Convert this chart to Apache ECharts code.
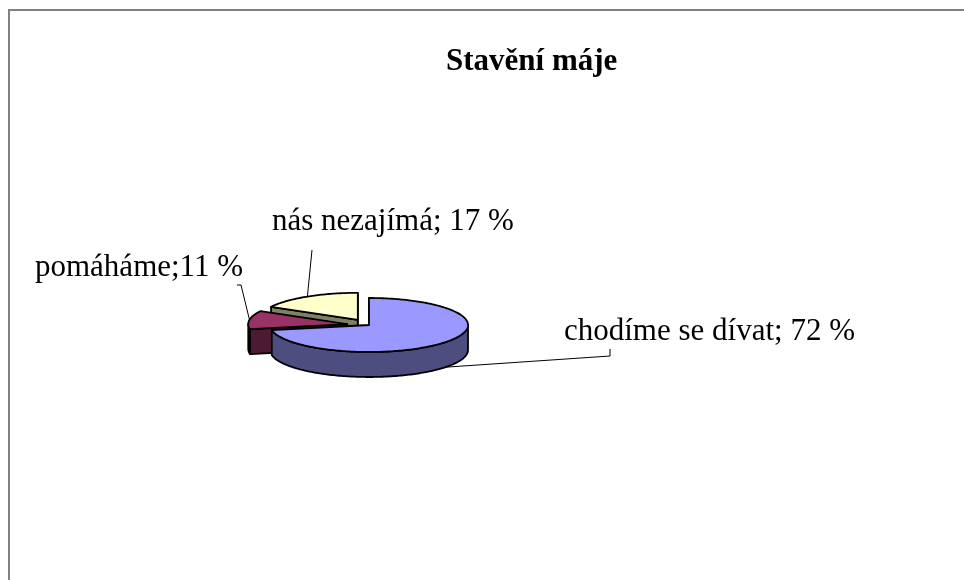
<!DOCTYPE html>
<html>
<head>
<meta charset="utf-8">
<title>Stavění máje</title>
<script src="https://cdn.jsdelivr.net/npm/echarts@6/dist/echarts.min.js"></script>
<style>
  html, body { margin: 0; padding: 0; background: #fff; }
  #main { width: 964px; height: 580px; }
</style>
</head>
<body>
<div id="main"></div>
<script>
// data
var categories = ['chodíme se dívat', 'pomáháme', 'nás nezajímá']
var values = [72, 11, 17]
var separators = ['; ', ';', '; '] // as written in the original labels

// styles
var topColors = ['#9999ff', '#993366', '#ffffcc']
var sideColors = ['#4d4d80', '#4d1a33', '#808066']
var explode = [0, 22, 22]

// 3d pie geometry
var cx = 369, cy = 325, rx = 99, ry = 27, depth = 25
var labelPos = [[564, 332], [35, 268], [272, 222]]
var leaderPts = [[[610, 356], [610, 349]], [[241, 285], [237, 285]], [[312, 250]]]
var font = '"Liberation Serif", "Times New Roman", serif'

var total = values.reduce(function (s, v) { return s + v }, 0)
var starts = []
var acc = 0
values.forEach(function (v) { starts.push(acc / total * Math.PI * 2); acc += v })

function pt(ox, oy, a, dz) {
  return [ox + rx * Math.sin(a), oy - ry * Math.cos(a) + (dz || 0)]
}
function arc(ox, oy, a0, a1, dz) {
  var n = Math.max(2, Math.ceil(Math.abs(a1 - a0) / 0.02))
  var out = []
  for (var k = 0; k <= n; k++) out.push(pt(ox, oy, a0 + (a1 - a0) * k / n, dz))
  return out
}

function renderItem(params, api) {
  var i = params.dataIndex
  var v = api.value(0)
  var a0 = starts[i]
  var a1 = a0 + v / total * Math.PI * 2
  var mid = (a0 + a1) / 2
  var ox = cx + explode[i] * Math.sin(mid)
  var oy = cy - explode[i] * Math.cos(mid) * ry / rx
  var base = (1 - Math.cos(mid)) * 10
  var line = { stroke: '#000', lineWidth: 1.8, lineJoin: 'round' }
  var kids = []

  // radial faces, only those turned to the viewer
  ;[[a0, a0 - Math.PI / 2], [a1, a1 + Math.PI / 2]].forEach(function (f) {
    if (Math.cos(f[1]) < 1e-6) {
      var e = pt(ox, oy, f[0])
      kids.push({
        type: 'polygon', z2: base,
        shape: { points: [[ox, oy], e, [e[0], e[1] + depth], [ox, oy + depth]] },
        style: Object.assign({ fill: sideColors[i] }, line)
      })
    }
  })
  // outer wall, front half only
  var w0 = Math.max(a0, Math.PI / 2), w1 = Math.min(a1, Math.PI * 1.5)
  if (w1 > w0) {
    kids.push({
      type: 'polygon', z2: base + 1,
      shape: { points: arc(ox, oy, w0, w1).concat(arc(ox, oy, w1, w0, depth)) },
      style: Object.assign({ fill: sideColors[i] }, line)
    })
  }
  // top face
  kids.push({
    type: 'polygon', z2: base + 2,
    shape: { points: [[ox, oy]].concat(arc(ox, oy, a0, a1)) },
    style: Object.assign({ fill: topColors[i] }, line)
  })
  // leader line + label
  var s = pt(ox, oy, mid, Math.cos(mid) < 0 ? depth : 0)
  kids.push({
    type: 'polyline', z2: 100,
    shape: { points: [s].concat(leaderPts[i]) },
    style: { stroke: '#000', lineWidth: 1, fill: null }
  })
  kids.push({
    type: 'text', z2: 101,
    x: labelPos[i][0], y: labelPos[i][1],
    style: {
      text: categories[i] + separators[i] + v + ' %',
      fontFamily: font, fontSize: 31, fill: '#000',
      align: 'left', verticalAlign: 'middle'
    }
  })
  return { type: 'group', children: kids }
}

var chart = echarts.init(document.getElementById('main'))
chart.setOption({
  animation: false,
  backgroundColor: '#fff',
  title: {
    text: 'Stavění máje',
    left: 441,
    top: 41,
    textStyle: { fontFamily: font, fontSize: 31, fontWeight: 'bold', color: '#000' }
  },
  graphic: [{
    type: 'rect',
    shape: { x: 9, y: 10, width: 1000, height: 1000 },
    style: { fill: null, stroke: '#808080', lineWidth: 2 },
    silent: true
  }],
  series: [{
    type: 'custom',
    coordinateSystem: 'none',
    silent: true,
    renderItem: renderItem,
    data: values.map(function (v, i) { return { name: categories[i], value: [v] } })
  }]
})
</script>
</body>
</html>
